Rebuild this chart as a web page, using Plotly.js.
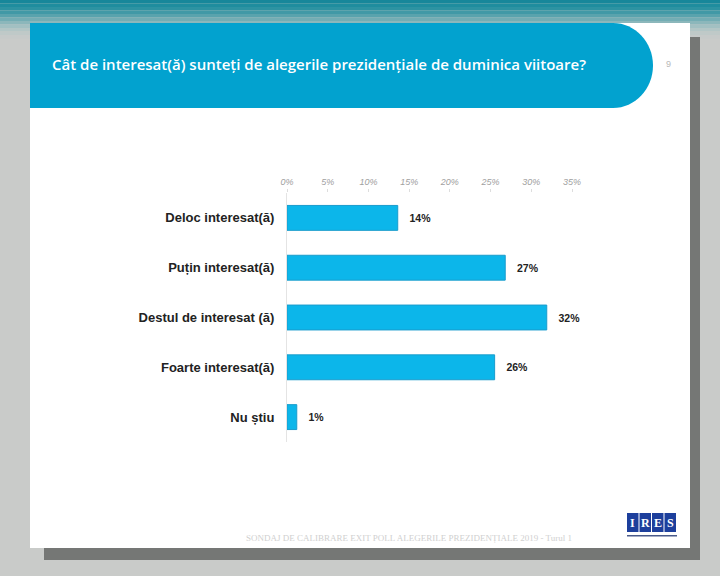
<!DOCTYPE html>
<html>
<head>
<meta charset="utf-8">
<script src="https://cdn.plot.ly/plotly-3.0.1.min.js"></script>
<style>
  html, body { margin: 0; padding: 0; background: #c9cbc9; }
  #chart { width: 720px; height: 576px; }
</style>
</head>
<body>
<div id="chart"></div>
<script>
// answers, top to bottom
const categories = ['Deloc interesat(ă)', 'Puțin interesat(ă)', 'Destul de interesat (ă)', 'Foarte interesat(ă)', 'Nu știu'];
const shares = [13.6, 26.8, 31.9, 25.5, 1.2];
const shareLabels = ['14%', '27%', '32%', '26%', '1%'];

const titleText = 'Cât de interesat(ă) sunteți de alegerile prezidențiale de duminica viitoare?';
const footerText = 'SONDAJ DE CALIBRARE EXIT POLL ALEGERILE PREZIDENȚIALE 2019 - Turul 1';
const logoLetters = ['I', 'R', 'E', 'S'];

// plot area in pixels
const L = 287, R = 572, T = 193, B = 442;
const px = x => (x - L) / (R - L);
const py = y => 1 - (y - T) / (B - T);

function rect(x0, y0, x1, y1, color, extra) {
    return Object.assign({
        type: 'rect', xref: 'paper', yref: 'paper', layer: 'below',
        x0: px(x0), x1: px(x1), y0: py(y1), y1: py(y0),
        fillcolor: color, line: {width: 0}
    }, extra || {});
}

// banner with rounded right end
function banner(x0, y0, x1, y1, rx) {
    const ry = (y1 - y0) / 2, k = 0.5523;
    const cx = x1 - rx, cy = y0 + ry;
    const P = (x, y) => px(x) + ',' + py(y);
    return 'M' + P(x0, y0) + ' L' + P(cx, y0) +
        ' C' + P(cx + k * rx, y0) + ' ' + P(x1, cy - k * ry) + ' ' + P(x1, cy) +
        ' C' + P(x1, cy + k * ry) + ' ' + P(cx + k * rx, y1) + ' ' + P(cx, y1) +
        ' L' + P(x0, y1) + ' Z';
}

// teal fade along the top of the frame
const fade = ['#17879a', '#1f8d9e', '#2d93a2', '#4199a6', '#59a3ad', '#73adb4', '#8cb7bb', '#a2c0c2', '#b3c6c6', '#bfc9c8', '#c6cac9'];
const shapes = fade.map((c, i) => rect(0, i * 3.5, 720, i * 3.5 + 3.6, c));

shapes.push(
    // slide shadow and slide
    rect(44, 37, 700, 560, '#757775'),
    rect(30, 23, 690, 548, '#ffffff'),
    {type: 'path', xref: 'paper', yref: 'paper', layer: 'below',
     path: banner(30, 23, 653, 108, 40), fillcolor: '#02a2cf', line: {width: 0}}
);

const annotations = [
    {text: titleText, xref: 'paper', yref: 'paper', x: px(50), y: py(64),
     xanchor: 'left', yanchor: 'middle', showarrow: false,
     font: {family: 'Open Sans', size: 15, color: '#ffffff', weight: 600}},
    {text: '9', xref: 'paper', yref: 'paper', x: px(668), y: py(64),
     xanchor: 'center', yanchor: 'middle', showarrow: false,
     font: {family: 'Liberation Sans', size: 9, color: '#b8b8b8'}},
    {text: footerText, xref: 'paper', yref: 'paper', x: px(409), y: py(538),
     xanchor: 'center', yanchor: 'middle', showarrow: false,
     font: {family: 'Liberation Serif', size: 9, color: '#d0d0d0'}}
];

// IRES logo
logoLetters.forEach((ch, i) => {
    const x0 = 627 + i * 12.5;
    shapes.push(rect(x0, 513, x0 + 11.5, 532, '#1d3f9c'));
    annotations.push({text: '<b>' + ch + '</b>', xref: 'paper', yref: 'paper',
        x: px(x0 + 5.75), y: py(522.5), xanchor: 'center', yanchor: 'middle', showarrow: false,
        font: {family: 'Liberation Serif', size: 12, color: '#ffffff'}});
});
shapes.push(rect(627, 535, 677, 536.5, '#4a5a8a'));

const trace = {
    type: 'bar',
    orientation: 'h',
    x: shares,
    y: categories,
    text: shareLabels,
    texttemplate: '   %{text}',
    textposition: 'outside',
    cliponaxis: false,
    textfont: {family: 'Liberation Sans', size: 10.5, color: '#222222', weight: 700},
    marker: {color: '#0cb6ea', line: {color: '#1a9ccc', width: 1}},
    hoverinfo: 'skip'
};

const layout = {
    width: 720,
    height: 576,
    margin: {l: L, r: 720 - R, t: T, b: 576 - B},
    paper_bgcolor: '#c9cbc9',
    plot_bgcolor: 'rgba(0,0,0,0)',
    showlegend: false,
    bargap: 0.5,
    xaxis: {
        side: 'top',
        range: [0, 35],
        dtick: 5,
        ticksuffix: '%',
        showgrid: false,
        zeroline: false,
        showline: false,
        ticks: 'outside',
        ticklen: 3,
        tickcolor: '#dddddd',
        tickfont: {family: 'Liberation Sans', size: 9, color: '#a0a0a0', style: 'italic'},
        fixedrange: true
    },
    yaxis: {
        autorange: 'reversed',
        showgrid: false,
        zeroline: false,
        showline: true,
        linecolor: '#e4e4e4',
        linewidth: 1,
        ticks: '',
        ticklabelstandoff: 9,
        tickfont: {family: 'Liberation Sans', size: 13, color: '#222222', weight: 700},
        fixedrange: true
    },
    shapes: shapes,
    annotations: annotations
};

Plotly.newPlot('chart', [trace], layout, {displayModeBar: false, staticPlot: true});
</script>
</body>
</html>
